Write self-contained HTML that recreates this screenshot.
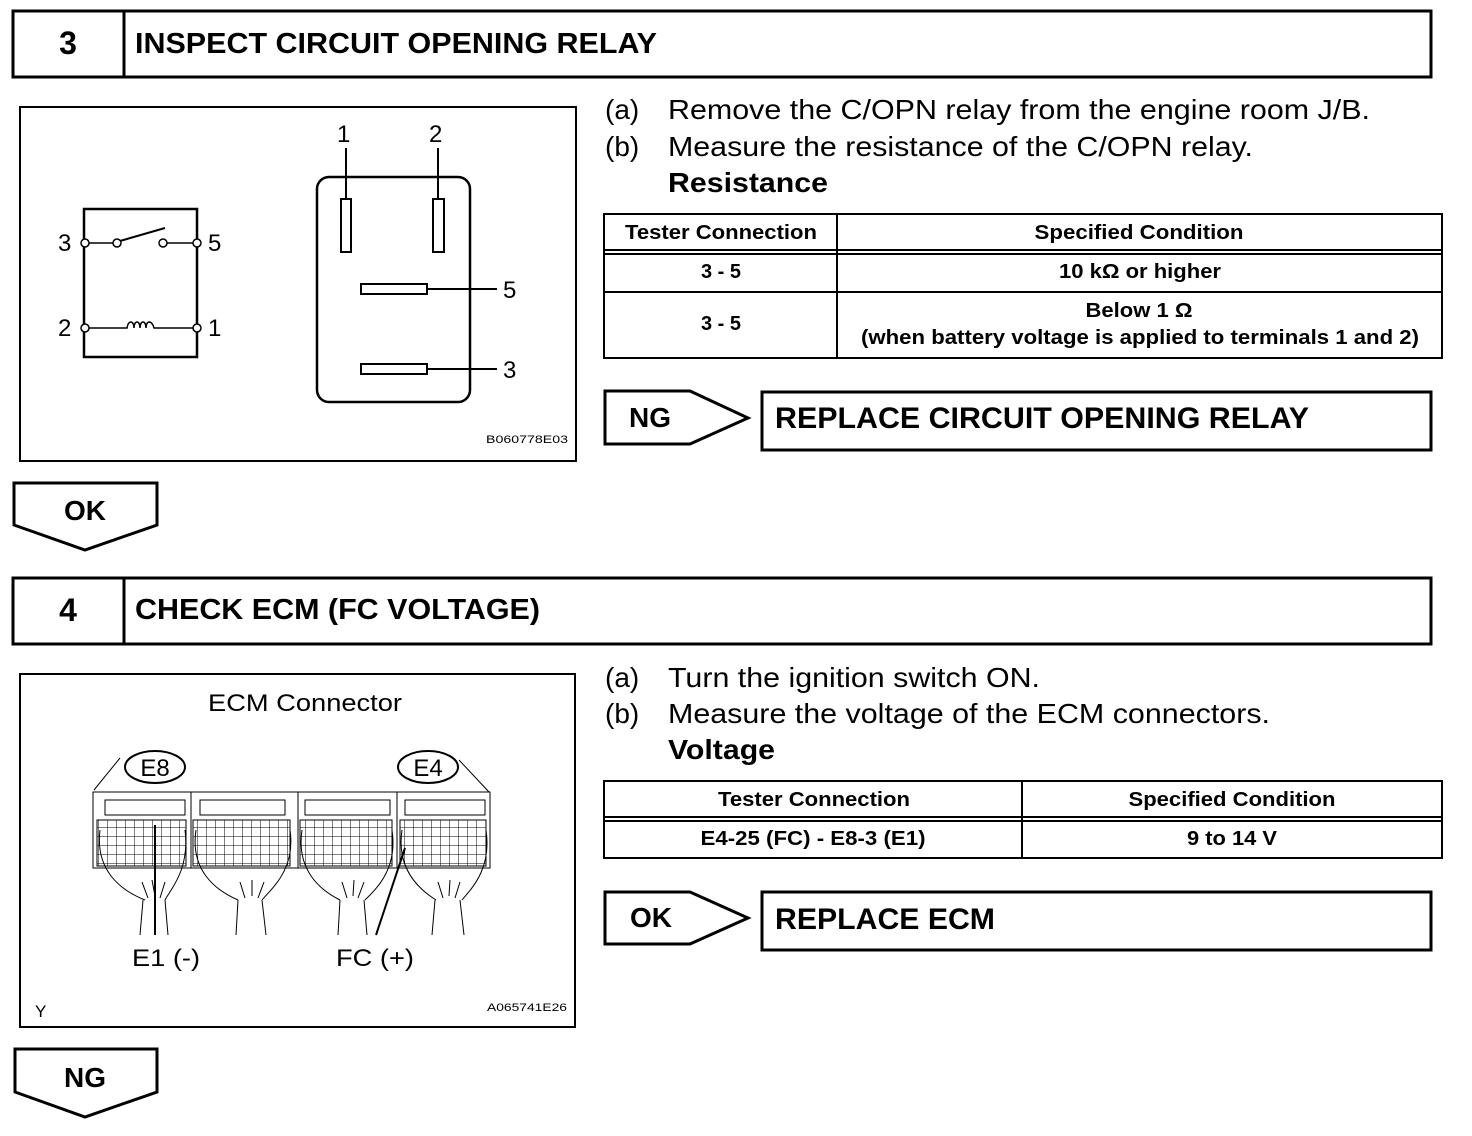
<!DOCTYPE html>
<html><head><meta charset="utf-8"><style>
html,body{margin:0;padding:0;background:#fff;}
svg{display:block;}
text{font-family:"Liberation Sans",Arial,sans-serif;fill:#000;}
.b{font-weight:bold;}
</style></head><body>
<svg width="1472" height="1136" viewBox="0 0 1472 1136" xmlns="http://www.w3.org/2000/svg">
<defs>
<pattern id="grid" width="9" height="9" patternUnits="userSpaceOnUse">
<path d="M9 0 V9 M0 9 H9" stroke="#000" stroke-width="1" fill="none"/>
</pattern>
</defs>
<g fill="none" stroke="#000">
<rect x="13" y="11" width="1418" height="66" stroke-width="3"/>
<line x1="124" y1="11" x2="124" y2="77" stroke-width="3"/>
<rect x="20" y="107" width="556" height="354" stroke-width="2"/>
<rect x="84" y="209" width="113" height="148" stroke-width="2.5"/>
<line x1="84" y1="243" x2="117" y2="243" stroke-width="1.5"/>
<line x1="163" y1="243" x2="197" y2="243" stroke-width="1.5"/>
<line x1="120" y1="241" x2="165" y2="228" stroke-width="2"/>
<circle cx="117" cy="243" r="4" fill="#fff" stroke-width="1.5"/>
<circle cx="163" cy="243" r="4" fill="#fff" stroke-width="1.5"/>
<circle cx="85" cy="243" r="4" fill="#fff" stroke-width="1.5"/>
<circle cx="197" cy="243" r="4" fill="#fff" stroke-width="1.5"/>
<path d="M85 328 H127 C128 320 134 320 134 328 C134 320 140 320 140 328 C140 320 146 320 146 328 C146 320 152 320 154 328 H197" stroke-width="1.5"/>
<circle cx="85" cy="328" r="4" fill="#fff" stroke-width="1.5"/>
<circle cx="197" cy="328" r="4" fill="#fff" stroke-width="1.5"/>
<rect x="317" y="177" width="153" height="225" rx="12" stroke-width="2.5"/>
<rect x="341" y="199" width="10" height="53" stroke-width="2"/>
<rect x="433" y="199" width="11" height="53" stroke-width="2"/>
<line x1="346" y1="148" x2="346" y2="199" stroke-width="2"/>
<line x1="438" y1="148" x2="438" y2="199" stroke-width="2"/>
<rect x="361" y="284" width="66" height="10" stroke-width="2"/>
<rect x="361" y="364" width="66" height="10" stroke-width="2"/>
<line x1="427" y1="289" x2="497" y2="289" stroke-width="2"/>
<line x1="427" y1="369" x2="497" y2="369" stroke-width="2"/>
<polygon points="14,483 157,483 157,525 85,550 14,525" stroke-width="3"/>
<rect x="604" y="214" width="838" height="144" stroke-width="2"/>
<line x1="604" y1="250" x2="1442" y2="250" stroke-width="2"/>
<line x1="604" y1="254" x2="1442" y2="254" stroke-width="2"/>
<line x1="604" y1="292" x2="1442" y2="292" stroke-width="2"/>
<line x1="837" y1="214" x2="837" y2="358" stroke-width="2"/>
<polygon points="605,391 690,391 748,418 690,444 605,444" stroke-width="3"/>
<rect x="762" y="392" width="669" height="58" stroke-width="3"/>
<rect x="13" y="578" width="1418" height="66" stroke-width="3"/>
<line x1="124" y1="578" x2="124" y2="644" stroke-width="3"/>
<rect x="20" y="674" width="555" height="353" stroke-width="2"/>
<rect x="604" y="781" width="838" height="77" stroke-width="2"/>
<line x1="604" y1="817" x2="1442" y2="817" stroke-width="2"/>
<line x1="604" y1="821" x2="1442" y2="821" stroke-width="2"/>
<line x1="1022" y1="781" x2="1022" y2="858" stroke-width="2"/>
<polygon points="605,892 690,892 748,918 690,944 605,944" stroke-width="3"/>
<rect x="762" y="892" width="669" height="58" stroke-width="3"/>
<polygon points="15,1049 157,1049 157,1092 85,1117 15,1092" stroke-width="3"/>

<ellipse cx="155" cy="767" rx="30" ry="16" stroke-width="2"/>
<ellipse cx="428" cy="767" rx="30" ry="16" stroke-width="2"/>
<line x1="120" y1="758" x2="94" y2="790" stroke-width="1"/>
<line x1="459" y1="760" x2="489" y2="792" stroke-width="1"/>
<rect x="93" y="792" width="397" height="76" stroke-width="1"/>
<g stroke-width="1">
<rect x="97" y="820" width="89" height="46" fill="url(#grid)"/>
<rect x="193" y="820" width="97" height="46" fill="url(#grid)"/>
<rect x="300" y="820" width="92" height="46" fill="url(#grid)"/>
<rect x="400" y="820" width="86" height="46" fill="url(#grid)"/>
<path d="M105 800 H185 V815 H105Z M200 800 H285 V815 H200Z M305 800 H390 V815 H305Z M405 800 H485 V815 H405Z"/>
<line x1="191" y1="792" x2="191" y2="868"/>
<line x1="298" y1="792" x2="298" y2="868"/>
<line x1="397" y1="792" x2="397" y2="868"/>
<path d="M100 830 C95 870 120 890 145 900 M185 830 C190 870 170 890 165 900"/>
<path d="M196 830 C190 870 215 890 238 900 M290 830 C296 870 270 890 262 900"/>
<path d="M302 830 C296 870 320 890 340 900 M392 830 C398 870 375 890 365 900"/>
<path d="M402 830 C396 870 420 890 436 900 M486 830 C492 870 470 890 462 900"/>
<path d="M143 900 L140 935 M165 900 L168 935 M238 900 L236 935 M262 900 L266 935 M340 900 L338 935 M364 900 L367 935 M435 900 L432 935 M460 900 L464 935"/>
<path d="M148 898 L142 882 M155 896 L152 880 M160 898 L165 882 M245 898 L240 882 M252 896 L252 880 M258 898 L264 882 M347 898 L342 882 M353 896 L354 880 M358 898 L364 882 M443 898 L438 882 M449 896 L450 880 M455 898 L460 882"/>
</g>
<line x1="155" y1="825" x2="155" y2="935" stroke-width="2"/>
<line x1="405" y1="848" x2="376" y2="935" stroke-width="2"/>
</g>

<text x="68" y="54" class="b" font-size="32" text-anchor="middle">3</text>
<text x="135" y="53" class="b" font-size="29" textLength="522" lengthAdjust="spacingAndGlyphs">INSPECT CIRCUIT OPENING RELAY</text>
<text x="68" y="621" class="b" font-size="32" text-anchor="middle">4</text>
<text x="135" y="619" class="b" font-size="29" textLength="405" lengthAdjust="spacingAndGlyphs">CHECK ECM (FC VOLTAGE)</text>

<g font-size="24">
<text x="58" y="251">3</text><text x="208" y="251">5</text>
<text x="58" y="336">2</text><text x="208" y="336">1</text>
<text x="337" y="142">1</text><text x="429" y="142">2</text>
<text x="503" y="298">5</text><text x="503" y="378">3</text>
</g>
<text x="486" y="443" font-size="11" textLength="82" lengthAdjust="spacingAndGlyphs">B060778E03</text>
<text x="85" y="520" class="b" font-size="28" text-anchor="middle">OK</text>

<g font-size="28">
<text x="605" y="119">(a)</text><text x="668" y="119" textLength="702" lengthAdjust="spacingAndGlyphs">Remove the C/OPN relay from the engine room J/B.</text>
<text x="605" y="156">(b)</text><text x="668" y="156" textLength="585" lengthAdjust="spacingAndGlyphs">Measure the resistance of the C/OPN relay.</text>
<text x="668" y="192" class="b" textLength="160" lengthAdjust="spacingAndGlyphs">Resistance</text>
<text x="605" y="687">(a)</text><text x="668" y="687" textLength="372" lengthAdjust="spacingAndGlyphs">Turn the ignition switch ON.</text>
<text x="605" y="723">(b)</text><text x="668" y="723" textLength="602" lengthAdjust="spacingAndGlyphs">Measure the voltage of the ECM connectors.</text>
<text x="668" y="759" class="b" textLength="107" lengthAdjust="spacingAndGlyphs">Voltage</text>
</g>

<g class="b" font-size="20" text-anchor="middle">
<text x="721" y="239" class="b" textLength="192" lengthAdjust="spacingAndGlyphs">Tester Connection</text>
<text x="1139" y="239" class="b" textLength="209" lengthAdjust="spacingAndGlyphs">Specified Condition</text>
<text x="721" y="278" class="b">3 - 5</text>
<text x="1140" y="278" class="b" textLength="162" lengthAdjust="spacingAndGlyphs">10 kΩ or higher</text>
<text x="721" y="330" class="b">3 - 5</text>
<text x="1139" y="317" class="b" textLength="107" lengthAdjust="spacingAndGlyphs">Below 1 Ω</text>
<text x="1140" y="344" class="b" textLength="558" lengthAdjust="spacingAndGlyphs">(when battery voltage is applied to terminals 1 and 2)</text>
<text x="814" y="806" class="b" textLength="192" lengthAdjust="spacingAndGlyphs">Tester Connection</text>
<text x="1232" y="806" class="b" textLength="207" lengthAdjust="spacingAndGlyphs">Specified Condition</text>
<text x="813" y="845" class="b" textLength="225" lengthAdjust="spacingAndGlyphs">E4-25 (FC) - E8-3 (E1)</text>
<text x="1232" y="845" class="b" textLength="90" lengthAdjust="spacingAndGlyphs">9 to 14 V</text>
</g>

<text x="650" y="427" class="b" font-size="28" text-anchor="middle">NG</text>
<text x="775" y="428" class="b" font-size="30" textLength="534" lengthAdjust="spacingAndGlyphs">REPLACE CIRCUIT OPENING RELAY</text>
<text x="651" y="927" class="b" font-size="28" text-anchor="middle">OK</text>
<text x="775" y="929" class="b" font-size="30" textLength="220" lengthAdjust="spacingAndGlyphs">REPLACE ECM</text>
<text x="85" y="1087" class="b" font-size="28" text-anchor="middle">NG</text>

<text x="208" y="711" font-size="24" textLength="194" lengthAdjust="spacingAndGlyphs">ECM Connector</text>
<text x="155" y="776" font-size="24" text-anchor="middle">E8</text>
<text x="428" y="776" font-size="24" text-anchor="middle">E4</text>
<text x="132" y="966" font-size="24" textLength="68" lengthAdjust="spacingAndGlyphs">E1 (-)</text>
<text x="336" y="966" font-size="24" textLength="78" lengthAdjust="spacingAndGlyphs">FC (+)</text>
<text x="35" y="1017" font-size="17">Y</text>
<text x="487" y="1011" font-size="11" textLength="80" lengthAdjust="spacingAndGlyphs">A065741E26</text>
</svg>
</body></html>
